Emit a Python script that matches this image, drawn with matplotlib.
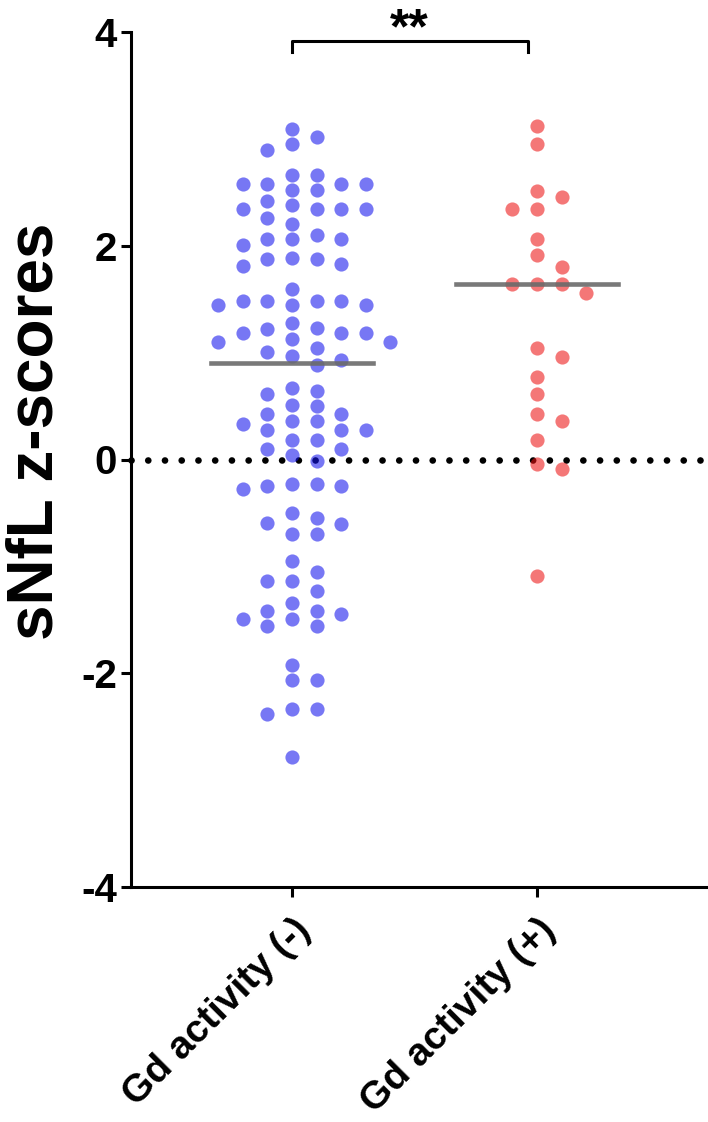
import numpy as np
import matplotlib.pyplot as plt

# sNfL z-scores
gd_neg = [3.09, 3.02, 2.95, 2.90, 2.66, 2.66, 2.58, 2.58, 2.58, 2.58,
          2.52, 2.52, 2.42, 2.38, 2.34, 2.34, 2.34, 2.34, 2.26, 2.20,
          2.10, 2.06, 2.06, 2.06, 2.01, 1.89, 1.88, 1.88, 1.83, 1.81,
          1.60, 1.48, 1.48, 1.48, 1.48, 1.45, 1.45, 1.45, 1.28, 1.23,
          1.22, 1.18, 1.18, 1.18, 1.13, 1.10, 1.10, 1.04, 1.01, 0.97,
          0.93, 0.88, 0.67, 0.64, 0.61, 0.51, 0.50, 0.43, 0.43, 0.36,
          0.36, 0.33, 0.28, 0.28, 0.28, 0.18, 0.18, 0.10, 0.10, 0.04,
          -0.01, -0.23, -0.23, -0.25, -0.25, -0.28, -0.50, -0.55, -0.59, -0.60,
          -0.70, -0.70, -0.95, -1.05, -1.14, -1.14, -1.23, -1.34, -1.42, -1.42,
          -1.45, -1.49, -1.49, -1.56, -1.56, -1.92, -2.06, -2.06, -2.33, -2.33,
          -2.38, -2.78]
gd_pos = [3.12, 2.95, 2.51, 2.46, 2.34, 2.34, 2.06, 1.91, 1.80, 1.64,
          1.64, 1.64, 1.56, 1.04, 0.96, 0.77, 0.61, 0.43, 0.36, 0.18,
          -0.04, -0.09, -1.09]

groups = ['Gd activity (-)', 'Gd activity (+)']
values = [gd_neg, gd_pos]
colors = ['#1111ED', '#ED1111']
yticks = [-4, -2, 0, 2, 4]

plt.rcParams['font.family'] = ['Liberation Sans', 'DejaVu Sans']
plt.rcParams['font.weight'] = 'bold'

W, H = 708, 1122
fig = plt.figure(figsize=(W / 100, H / 100), dpi=100)
ax = fig.add_axes([131 / W, 235 / H, (W - 131) / W, (887 - 32) / H])
xlim = (-0.657, 1.698)
ylim = (-4, 4)
ax.set_xlim(*xlim)
ax.set_ylim(*ylim)

# pixel scale of the axes, used to spread the points without overlap
px_x = (W - 131) / (xlim[1] - xlim[0])
px_y = (887 - 32) / (ylim[1] - ylim[0])


def swarm(vals, step=24.6, diam=14.5):
    """greedy column layout: each point goes to the nearest free column"""
    order = np.argsort(vals)[::-1]
    placed = []
    offs = np.zeros(len(vals))
    cand = [0]
    for k in range(1, 12):
        cand += [k, -k]
    for i in order:
        y = vals[i] * px_y
        for c in cand:
            x = c * step
            if all((x - px) ** 2 + (y - py) ** 2 >= diam ** 2 for px, py in placed):
                break
        placed.append((x, y))
        offs[i] = x / px_x
    return offs


# zero reference line
ax.plot(xlim, [0, 0], color='black', lw=4.8, ls=(0, (0.01, 2.5)),
        dash_capstyle='round', zorder=1, clip_on=False)

for i, (vals, col) in enumerate(zip(values, colors)):
    vals = np.array(vals)
    xs = i + swarm(vals)
    ax.scatter(xs, vals, s=104, color=col, alpha=0.57, linewidths=0, zorder=2)
    med = np.median(vals)
    ax.plot([i - 0.33, i + 0.33], [med, med], color='#6a6a6a', lw=3.3, zorder=3,
            alpha=0.9)

# significance bracket
ax.plot([0, 0, 0.965, 0.965], [3.81, 3.92, 3.92, 3.81], color='black', lw=2.2,
        clip_on=False, zorder=4)
ax.text(0.48, 4.02, '**', ha='center', va='center', fontsize=36,
        fontweight='bold')

for s in ['top', 'right']:
    ax.spines[s].set_visible(False)
for s in ['left', 'bottom']:
    ax.spines[s].set_linewidth(2.2)

ax.set_yticks(yticks)
ax.set_yticklabels([str(t) for t in yticks], fontsize=29, fontweight='bold')
ax.set_xticks([0, 1])
ax.set_xticklabels(groups, fontsize=28, fontweight='bold', rotation=45,
                   ha='right', rotation_mode='anchor')
ax.tick_params(axis='both', width=2.2, length=7, pad=3)
ax.tick_params(axis='x', pad=11)
ax.set_ylabel('sNfL z-scores', fontsize=46, fontweight='bold')
ax.yaxis.set_label_coords(-0.114, 0.533)

fig.savefig('out.png', dpi=100)
